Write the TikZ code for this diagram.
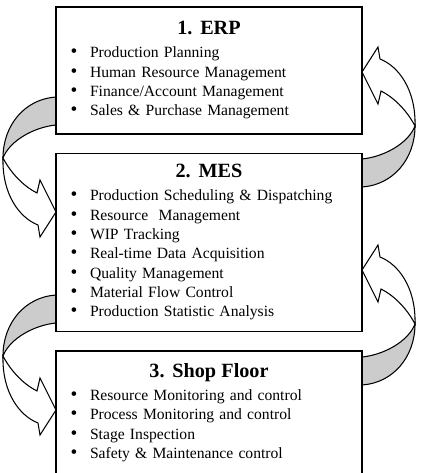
\documentclass[tikz,border=0pt]{standalone}
\usepackage{fontspec}
\setmainfont{Liberation Serif}
\usetikzlibrary{positioning}

% list lines inside a layer box
\newcommand{\btitle}[1]{{\centering\fontsize{11.5}{13}\selectfont\bfseries #1\par}\vspace{2pt}}
\newcommand{\bitem}[1]{\hspace*{0.29cm}\makebox[0.39cm][l]{\fontsize{11}{11}\selectfont\textbullet}#1\par}

% twisted block arrow (left side, pointing right)
\newcommand{\twistarrow}{%
  \draw[arrowline, fill=gray!40] (56,97) .. controls (25,99) and (3,125) .. (3,158)
    .. controls (10,140) and (35,127) .. (56,125);
  \draw[arrowline, fill=white] (3,158) .. controls (2,195) and (20,218) .. (38,225)
    -- (40,237) -- (56,212) -- (40,180) -- (37,193)
    .. controls (25,187) and (12,175) .. (3,158) -- cycle;
}

\begin{document}
\begin{tikzpicture}[x=0.02cm, y=-0.02cm,
  layer/.style={draw, line width=0.9pt, fill=white, minimum width=6.12cm, text width=6.12cm,
    inner xsep=0pt, inner ysep=0pt, align=left, font=\fontsize{8.9}{11}\selectfont},
  arrowline/.style={line width=0.6pt, line join=miter}
]
\useasboundingbox (0,0) rectangle (421,473);

% Arrows
\twistarrow
\begin{scope}[shift={(0,198)}]
  \twistarrow
\end{scope}
\begin{scope}[rotate around={180:(209,142)}]
  \twistarrow
\end{scope}
\begin{scope}[rotate around={180:(209,241)}]
  \twistarrow
\end{scope}

% Layers
\node[layer, anchor=north, minimum height=2.54cm] (erp) at (209,6) {%
  \btitle{1. ERP}
  \bitem{Production Planning}
  \bitem{Human Resource Management}
  \bitem{Finance/Account Management}
  \bitem{Sales \& Purchase Management}};
\node[layer, minimum height=3.56cm, below=0.36cm of erp] (mes) {%
  \btitle{2. MES}
  \bitem{Production Scheduling \& Dispatching}
  \bitem{Resource\ \ Management}
  \bitem{WIP Tracking}
  \bitem{Real-time Data Acquisition}
  \bitem{Quality Management}
  \bitem{Material Flow Control}
  \bitem{Production Statistic Analysis}};
\node[layer, minimum height=2.47cm, below=0.36cm of mes] (shop) {%
  \btitle{3. Shop Floor}
  \bitem{Resource Monitoring and control}
  \bitem{Process Monitoring and control}
  \bitem{Stage Inspection}
  \bitem{Safety \& Maintenance control}};

\end{tikzpicture}
\end{document}
